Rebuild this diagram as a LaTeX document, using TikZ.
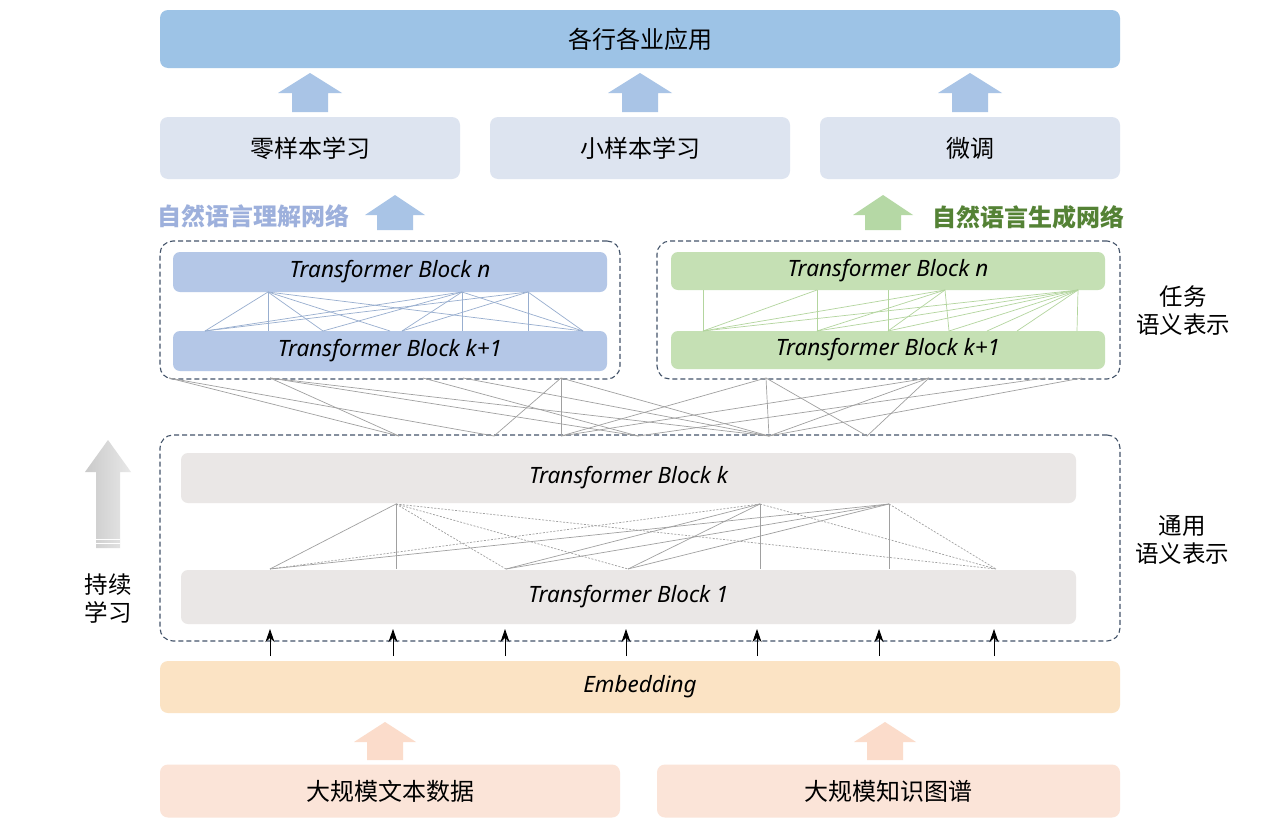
\documentclass[tikz,border=0pt]{standalone}
\usepackage{fontspec}
\setmainfont{Noto Sans}
\newfontfamily\cjk{Noto Sans CJK SC}
\usetikzlibrary{arrows.meta}
\definecolor{appblue}{HTML}{9DC3E6}
\definecolor{taskbox}{HTML}{DDE4F0}
\definecolor{arrblue}{HTML}{A9C4E6}
\definecolor{nlublue}{HTML}{B4C7E7}
\definecolor{nlutxt}{HTML}{9DB0DC}
\definecolor{nlggreen}{HTML}{C5E0B4}
\definecolor{nlgtxt}{HTML}{548235}
\definecolor{arrgreen}{HTML}{B5D8A5}
\definecolor{genbox}{HTML}{EAE7E6}
\definecolor{embbox}{HTML}{FBE3C4}
\definecolor{srcbox}{HTML}{FBE4D8}
\definecolor{arrpeach}{HTML}{FBDCCB}
\definecolor{frame}{HTML}{44546A}
\definecolor{meshblue}{HTML}{98AECF}
\definecolor{meshgreen}{HTML}{B3D59E}
\definecolor{meshgray}{HTML}{A0A0A0}
\newcommand\uparr[5]{%
  \fill[#4] (#1,#2) -- (#1+#5,#2+20) -- (#1+18,#2+20) -- (#1+18,#3)
    -- (#1-18,#3) -- (#1-18,#2+20) -- (#1-#5,#2+20) -- cycle;}
\begin{document}
\begin{tikzpicture}[x=1pt,y=-1pt,
  box/.style={rounded corners=8pt,inner sep=0pt,font=\cjk\fontsize{24}{28}\selectfont},
  tblock/.style={rounded corners=7pt,inner sep=0pt,font=\itshape\fontsize{22.5}{26}\selectfont},
  dbox/.style={draw=frame,dashed,dash pattern=on 5pt off 3pt,line width=1.1pt,rounded corners=13pt,inner sep=0pt},
  lbl/.style={font=\cjk\bfseries\fontsize{24}{28}\selectfont,inner sep=0pt},
  side/.style={font=\cjk\fontsize{23.5}{28}\selectfont,align=center,inner sep=0pt},
  mesh/.style={line width=0.7pt}]
\useasboundingbox (0,0) rectangle (1270,830);
\fill[white] (0,0) rectangle (1270,830);

% top application
\node[box,fill=appblue,minimum width=960pt,minimum height=58pt] (app) at (640,39) {各行各业应用};
\uparr{310}{73}{112}{arrblue}{32}
\uparr{640}{73}{112}{arrblue}{32}
\uparr{970}{73}{112}{arrblue}{32}

\node[box,fill=taskbox,minimum width=300pt,minimum height=62pt] (zero) at (310,148) {零样本学习};
\node[box,fill=taskbox,minimum width=300pt,minimum height=62pt] (few) at (640,148) {小样本学习};
\node[box,fill=taskbox,minimum width=300pt,minimum height=62pt] (ft) at (970,148) {微调};

% network labels
\node[lbl,text=nlutxt,anchor=west] (nlu) at (157,216) {自然语言理解网络};
\uparr{395}{195}{230}{arrblue}{30}
\uparr{883}{195}{230}{arrgreen}{30}
\node[lbl,text=nlgtxt,anchor=west] (nlg) at (932,217) {自然语言生成网络};

% task frames
\node[dbox,minimum width=460pt,minimum height=138pt] (lframe) at (390,310) {};
\node[dbox,minimum width=463pt,minimum height=138pt] (rframe) at (888.5,310) {};
\node[tblock,fill=nlublue,minimum width=434pt,minimum height=40pt] (ln) at (390,272) {Transformer Block n};
\node[tblock,fill=nlublue,minimum width=434pt,minimum height=40pt] (lk) at (390,351) {Transformer Block k+1};
\node[tblock,fill=nlggreen,minimum width=434pt,minimum height=38pt] (rn) at (888,271) {Transformer Block n};
\node[tblock,fill=nlggreen,minimum width=434pt,minimum height=38pt] (rk) at (888,350) {Transformer Block k+1};

\node[side] (task) at (1183,311) {任务\\语义表示};

% general frame
\node[dbox,minimum width=960pt,minimum height=206pt] (gframe) at (640,538) {};
\node[tblock,fill=genbox,minimum width=895pt,minimum height=50pt] (bk) at (628.5,478) {Transformer Block k};
\node[tblock,fill=genbox,minimum width=895pt,minimum height=54pt] (b1) at (628.5,597) {Transformer Block 1};
\node[side] (gen) at (1182,540) {通用\\语义表示};

% continual learning arrow
\shade[left color=gray!42,right color=gray!18]
  (108,440) -- (131,472) -- (120,472) -- (120,548) -- (96,548) -- (96,472) -- (85,472) -- cycle;
\draw[white,line width=0.8pt] (96,539) -- (120,539) (96,543) -- (120,543);
\node[side,align=left] (cl) at (108,599) {持续\\学习};

% embedding
\node[tblock,rounded corners=8pt,fill=embbox,minimum width=960pt,minimum height=52pt] (emb) at (640,687) {Embedding};
\uparr{385}{722}{760}{arrpeach}{31}
\uparr{885}{722}{760}{arrpeach}{31}
\node[box,fill=srcbox,minimum width=460pt,minimum height=53pt] (txt) at (390,791) {大规模文本数据};
\node[box,fill=srcbox,minimum width=463pt,minimum height=53pt] (kg) at (888.5,791) {大规模知识图谱};

% embedding to block 1 arrows
\foreach \x [count=\i] in {270,393,505,626,757,879,994}{
  \coordinate (ea\i) at (\x,656);
  \coordinate (eb\i) at (\x,629);
  \draw[-{Stealth[length=13pt,width=9pt,inset=4pt]},line width=0.9pt] (ea\i) -- (eb\i);
}

% left NLU mesh
\foreach \x [count=\i] in {268,462,528} \coordinate (lt\i) at (\x,292);
\foreach \x [count=\i] in {205,268,323,390,402,462,528,583} \coordinate (lb\i) at (\x,331);
\foreach \a/\b in {1/1,1/2,1/3,1/4,1/8,2/1,2/3,2/5,2/6,2/8,3/1,3/5,3/7,3/8}
  \draw[mesh,meshblue] (lt\a) -- (lb\b);

% right NLG mesh
\foreach \x [count=\i] in {703,817,888,945,1078} \coordinate (rt\i) at (\x,290);
\foreach \x [count=\i] in {703,817,888,949,987,1017,1077} \coordinate (rb\i) at (\x,331);
\foreach \a/\b in {1/1,2/1,2/2,3/3,4/1,4/2,4/3,4/4,5/1,5/2,5/3,5/4,5/5,5/6,5/7}
  \draw[mesh,meshgreen] (rt\a) -- (rb\b);

% middle mesh
\foreach \x [count=\i] in {169,270,423,463,561,766,929,1045,1082} \coordinate (mt\i) at (\x,378);
\foreach \x [count=\i] in {399,494,561,638,769,867} \coordinate (mb\i) at (\x,436);
\foreach \a/\b in {1/1,1/2,2/1,2/4,2/5,3/4,4/5,5/2,5/3,5/5,6/3,6/5,6/6,7/3,7/5,7/6,8/4,9/5}
  \draw[mesh,meshgray] (mt\a) -- (mb\b);

% lower mesh
\foreach \x [count=\i] in {396,760,889} \coordinate (ut\i) at (\x,504);
\foreach \x [count=\i] in {270,396,506,628,760,889,996} \coordinate (ub\i) at (\x,569);
\foreach \a/\b in {1/1,1/2,2/3,2/4,2/5,3/1,3/3,3/4,3/6}
  \draw[mesh,meshgray] (ut\a) -- (ub\b);
\foreach \a/\b in {1/3,1/4,1/7,2/1,2/7,3/7}
  \draw[mesh,meshgray,dash pattern=on 2pt off 1.5pt] (ut\a) -- (ub\b);
\end{tikzpicture}
\end{document}
